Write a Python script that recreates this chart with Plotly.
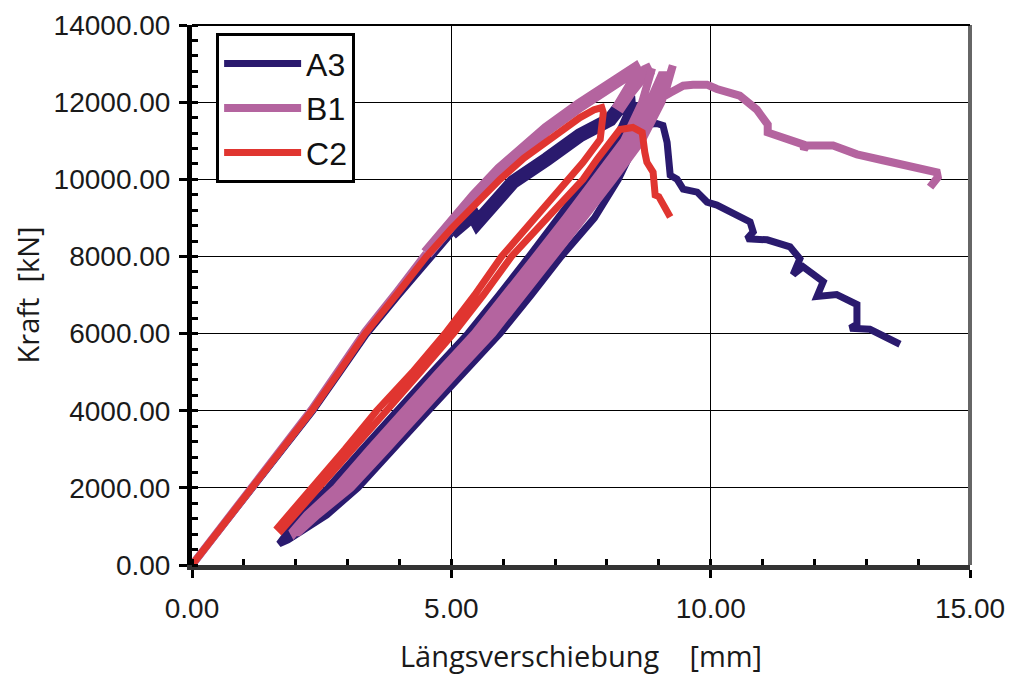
import plotly.graph_objects as go

# ---------------- data ----------------
# A3 -- initial loading (lower part)
A3_load_x = [0, 0.58, 1.17, 1.75, 2.33, 2.85, 3.36, 3.97, 4.55, 5.0]
A3_load_y = [0, 1000, 2000, 3000, 4000, 5000, 5980, 6980, 7920, 8600]
# A3 -- upper loading band and cycles at the peak (scattered measurements)
A3_peak_x = [5.0, 5.42, 5.5, 5.6, 6.19, 6.84, 7.48, 8.06, 8.25, 8.41, 8.45, 8.3, 8.55, 8.6]
A3_peak_y = [8600, 9080, 8880, 9050, 9930, 10520, 11140, 11550, 11900, 12150, 11500, 11200, 11950, 11600]
# A3 -- unloading, reloading and post-peak branch
A3_rest_x = [8.6, 8.2, 7.62, 7.08, 6.5, 5.92, 5.32, 4.63, 3.94, 3.28, 2.62, 2.1, 1.85, 1.7,
             1.68, 1.85, 2.1, 2.6, 3.2, 3.9, 4.56, 5.25, 5.94, 6.54, 7.12, 7.76, 8.22, 8.58, 8.64,
             8.77, 8.96, 9.08, 9.16, 9.18, 9.22, 9.35, 9.47, 9.74, 9.93, 10.12, 10.37, 10.76, 10.82, 10.7,
             11.09, 11.53, 11.72, 11.59, 11.78, 12.17, 12.05, 12.43, 12.82, 12.82, 12.69, 13.07, 13.65]
A3_rest_y = [11600, 11000, 10000, 9000, 8000, 7000, 6000, 5000, 4000, 3000, 2000, 1300, 850, 600,
             550, 650, 850, 1300, 2000, 3000, 4000, 5000, 6000, 7000, 8000, 9000, 10000, 11000, 11137,
             11420, 11446, 11394, 10957, 10441, 10106, 10003, 9745, 9668, 9410, 9332, 9152, 8894, 8636, 8456,
             8430, 8250, 7940, 7528, 7734, 7347, 6961, 7012, 6754, 6239, 6136, 6110, 5723]

# B1 -- initial loading (lower part)
B1_load_x = [0, 0.58, 1.15, 1.73, 2.31, 2.83, 3.34, 3.95, 4.52]
B1_load_y = [0, 1000, 2020, 3030, 4030, 5050, 6050, 7080, 8080]
# B1 -- upper loading band and cycle at the peak
B1_peak_x = [4.52, 5.0, 5.45, 5.94, 6.4, 6.84, 7.48, 7.9, 8.3, 8.54, 8.6, 8.35, 8.2, 8.45, 8.75, 8.87]
B1_peak_y = [8080, 8900, 9550, 10250, 10820, 11300, 11920, 12250, 12600, 12850, 12700, 12150, 11800, 12300, 12800, 12880]
# B1 -- two unload/reload cycles and post-peak branch
B1_rest_x = [8.87, 8.68, 8.33, 7.78, 7.21, 6.63, 6.05, 5.45, 4.76, 4.07, 3.43, 2.78, 2.22, 1.95,
             1.97, 2.27, 2.85, 3.53, 4.18, 4.87, 5.56, 6.16, 6.74, 7.32, 7.89, 8.44, 8.82, 9.05,
             9.12, 8.94, 8.56, 8.01, 7.44, 6.86, 6.28, 5.68, 4.99, 4.3, 3.63, 2.95, 2.36, 2.02,
             2.05, 2.42, 3.06, 3.75, 4.41, 5.1, 5.79, 6.39, 6.97, 7.55, 8.12, 8.67, 9.05, 9.27,
             9.1, 9.22, 9.35, 9.47, 9.66, 9.93, 10.12, 10.56, 10.89, 11.1, 11.1, 11.39, 11.78, 11.8, 11.85,
             12.36, 12.82, 13.32, 13.71, 14.23, 14.36, 14.38, 14.23]
B1_rest_y = [12880, 12000, 11000, 10000, 9000, 8000, 7000, 6000, 5000, 4000, 3000, 2000, 1300, 880,
             830, 1300, 2000, 3000, 4000, 5000, 6000, 7000, 8000, 9000, 10000, 11000, 12000, 12700,
             12700, 12000, 11000, 10000, 9000, 8000, 7000, 6000, 5000, 4000, 3000, 2000, 1300, 850,
             850, 1300, 2000, 3000, 4000, 5000, 6000, 7000, 8000, 9000, 10000, 11000, 12000, 12950,
             12150, 12245, 12323, 12426, 12452, 12452, 12340, 12168, 11807, 11420, 11214, 11085, 10905, 10780, 10880,
             10879, 10647, 10493, 10389, 10260, 10183, 10054, 9796]

# C2 -- loading, unloading, reloading, post-peak
C2_x = [0, 0.58, 1.15, 1.73, 2.31, 2.83, 3.34, 3.95, 4.52, 5.0, 5.45, 5.94, 6.4, 6.84, 7.2, 7.48, 7.75, 7.9,
        7.93, 7.9, 7.87, 7.54, 7.25, 6.62, 5.97, 5.45, 4.88, 4.25, 3.56, 2.95, 2.31, 2.14, 1.9, 1.66,
        1.72, 2.05, 2.47, 3.1, 3.75, 4.4, 5.04, 5.62, 6.16, 6.85, 7.54, 7.81, 8.1, 8.25, 8.5,
        8.68, 8.73, 8.77, 8.89, 8.93, 9.0, 9.22]
C2_y = [0, 1000, 2000, 3000, 4000, 5000, 6000, 7020, 8000, 8720, 9330, 10000, 10550, 11000, 11350, 11600, 11800, 11860,
        11730, 11350, 11034, 10441, 10000, 9000, 8000, 7000, 6000, 5000, 4000, 3000, 2000, 1676, 1300, 980,
        900, 1400, 2000, 3000, 4000, 5000, 6000, 7000, 8000, 9000, 10000, 10518, 11034, 11291, 11343,
        11214, 10699, 10441, 10183, 9590, 9550, 9023]

series_names = ["A3", "B1", "C2"]
series_colors = ["#2a1a6e", "#b4649f", "#e03530"]

x_tickvals = [0, 5, 10, 15]
y_tickvals = [0, 2000, 4000, 6000, 8000, 10000, 12000, 14000]

# ---------------- figure ----------------
segments = [
    ("A3", A3_load_x, A3_load_y, 7, True),
    ("A3", A3_peak_x, A3_peak_y, 14, False),
    ("A3", A3_rest_x, A3_rest_y, 7, False),
    ("B1", B1_load_x, B1_load_y, 8, True),
    ("B1", B1_peak_x, B1_peak_y, 13, False),
    ("B1", B1_rest_x, B1_rest_y, 8, False),
    ("C2", C2_x, C2_y, 7, True),
]
color_of = dict(zip(series_names, series_colors))

fig = go.Figure()
for name, xs, ys, w, show in segments:
    fig.add_trace(go.Scatter(x=xs, y=ys, mode="lines", name=name, legendgroup=name,
                             showlegend=show, line=dict(color=color_of[name], width=w)))

tick_font = dict(family="Liberation Sans, Arial, sans-serif", size=28, color="#1a1a1a")
title_font = dict(family="Open Sans, sans-serif", size=29, color="#1a1a1a")

# the page has an 8 px body margin, margins below compensate for it
fig.update_layout(
    width=1014, height=682,
    margin=dict(l=184, r=52, t=17, b=125, autoexpand=False),
    plot_bgcolor="white", paper_bgcolor="white",
    legend=dict(x=0.031, y=0.985, xanchor="left", yanchor="top",
                bordercolor="black", borderwidth=3, bgcolor="white",
                font=dict(family="Liberation Sans, Arial, sans-serif", size=32, color="#111"),
                itemwidth=77, tracegroupgap=0),
)
fig.update_xaxes(
    range=[0, 15], tickvals=x_tickvals, tickformat=".2f", tickfont=tick_font,
    showgrid=True, gridcolor="black", gridwidth=1.2, zeroline=False, automargin=False,
    showline=True, linecolor="#333", linewidth=5,
    ticks="outside", ticklen=8, tickwidth=3, tickcolor="black",
    minor=dict(dtick=1, ticks="inside", ticklen=6, tickwidth=3, tickcolor="black", showgrid=False),
    ticklabelstandoff=6, ticklabeloverflow="allow",
    title=dict(text="Längsverschiebung\u00a0\u00a0\u00a0\u00a0[mm]", font=title_font, standoff=26),
)
fig.update_yaxes(
    range=[0, 14000], tickvals=y_tickvals, tickformat=".2f", tickfont=tick_font,
    showgrid=True, gridcolor="black", gridwidth=1.2, zeroline=False, automargin=False,
    showline=True, linecolor="black", linewidth=5,
    ticks="outside", ticklen=8, tickwidth=3, tickcolor="black",
    minor=dict(dtick=400, ticks="inside", ticklen=6, tickwidth=3, tickcolor="black", showgrid=False),
    ticklabelstandoff=3, ticklabeloverflow="allow",
    title=dict(text="Kraft\u00a0\u00a0[kN]", font=title_font, standoff=12),
)
fig.add_shape(type="line", xref="x domain", yref="y domain", x0=1, x1=1, y0=0, y1=1,
              line=dict(color="#666", width=4))
fig.add_shape(type="line", xref="x domain", yref="y domain", x0=0, x1=1, y0=1, y1=1,
              line=dict(color="black", width=2))

fig.write_html("out.html")
